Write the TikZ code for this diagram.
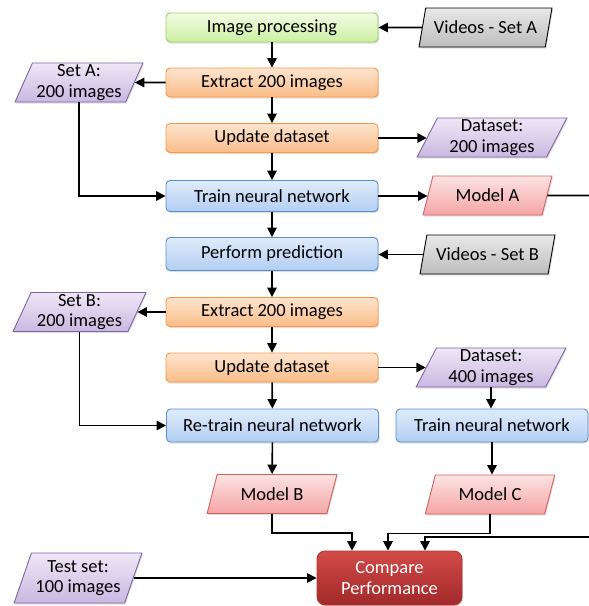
\documentclass[tikz,border=0pt]{standalone}
\usepackage{fontspec}
\setmainfont{Carlito}
\usetikzlibrary{shapes.geometric,arrows.meta,shadows,calc}
\definecolor{grnD}{HTML}{9DCB6B}
\definecolor{grnT}{HTML}{F2FBE4}
\definecolor{grnB}{HTML}{CBEFA0}
\definecolor{orD}{HTML}{F79646}
\definecolor{orT}{HTML}{FDE4CF}
\definecolor{orB}{HTML}{FBBD87}
\definecolor{blD}{HTML}{5B8FD0}
\definecolor{blT}{HTML}{DFEBFB}
\definecolor{blB}{HTML}{B3CEF2}
\definecolor{puD}{HTML}{8064A2}
\definecolor{puT}{HTML}{EEE7F6}
\definecolor{puB}{HTML}{CAB8E1}
\definecolor{gyT}{HTML}{E8E8E8}
\definecolor{gyB}{HTML}{BDBDBD}
\definecolor{rdD}{HTML}{D46161}
\definecolor{rdT}{HTML}{FDE3E3}
\definecolor{rdB}{HTML}{F4A5A5}
\definecolor{crD}{HTML}{B53535}
\definecolor{crT}{HTML}{D24A47}
\definecolor{crB}{HTML}{A2292A}
\begin{document}
\begin{tikzpicture}[x=1pt,y=-1pt,
  font=\fontsize{18.5}{20.5}\selectfont,
  shad/.style={drop shadow={opacity=0.25,shadow xshift=1pt,shadow yshift=-1.5pt}},
  box/.style={rectangle,rounded corners=4pt,minimum width=212pt,minimum height=29pt,inner sep=0pt,line width=0.9pt,shad},
  gbox/.style={box,draw=grnD,top color=grnT,bottom color=grnB},
  obox/.style={box,draw=orD,top color=orT,bottom color=orB},
  bbox/.style={box,draw=blD,top color=blT,bottom color=blB,minimum height=33pt},
  cbox/.style={box,draw=crD,top color=crT,bottom color=crB,text=white,align=center,rounded corners=8pt,minimum width=145pt,minimum height=54pt},
  para/.style={trapezium,trapezium left angle=66,trapezium right angle=114,trapezium stretches=true,inner sep=0pt,minimum height=39pt,line width=0.9pt,align=center,shad},
  gpara/.style={para,draw=black,top color=gyT,bottom color=gyB},
  ppara/.style={para,draw=puD,top color=puT,bottom color=puB},
  rpara/.style={para,draw=rdD,top color=rdT,bottom color=rdB},
  arr/.style={-{Triangle[length=9.5pt,width=9.5pt]},line width=1.6pt}]
\useasboundingbox (0,0) rectangle (589,606);
% process boxes
\node[gbox] (ip) at (272,27.5) {Image processing};
\node[obox] (ex1) at (272,82.5) {Extract 200 images};
\node[obox] (ud1) at (272,138) {Update dataset};
\node[bbox,minimum height=31pt] (tn) at (272,196) {Train neural network};
\node[bbox] (pp) at (272,254) {Perform prediction};
\node[obox] (ex2) at (272,312) {Extract 200 images};
\node[obox] (ud2) at (272,367.5) {Update dataset};
\node[bbox] (rt) at (272.5,425.5) {Re-train neural network};
\node[bbox,minimum width=192pt] (tc) at (492,425.5) {Train neural network};
\node[cbox] (cmp) at (389.5,578) {Compare\\Performance};
% data
\node[gpara,minimum width=133pt] (va) at (485.5,27.5) {Videos - Set A};
\node[ppara,minimum width=150pt] (d1) at (492,137.5) {Dataset:\\200 images};
\node[ppara,minimum width=128pt] (sa) at (79,82.5) {Set A:\\200 images};
\node[rpara,minimum width=129pt] (ma) at (487.5,195.5) {Model A};
\node[gpara,minimum width=135pt] (vb) at (487.5,254.5) {Videos - Set B};
\node[ppara,minimum width=133pt] (sb) at (79.5,312) {Set B:\\200 images};
\node[ppara,minimum width=150pt] (d2) at (491,367.5) {Dataset:\\400 images};
\node[rpara,minimum width=130pt] (mb) at (272,494) {Model B};
\node[rpara,minimum width=130pt] (mc) at (490,494.5) {Model C};
\node[ppara,minimum width=128pt,minimum height=50pt] (ts) at (78,578) {Test set:\\100 images};
% connectors
\draw[arr] (va.west) -- (ip.east);
\draw[arr] (ip) -- (ex1);
\draw[arr] (ex1.west) -- (sa.east);
\draw[arr] (ex1) -- (ud1);
\draw[arr] (ud1.east) -- (d1.west |- ud1.east);
\draw[arr] (ud1) -- (tn);
\draw[arr] (sa.south) |- (tn.west);
\draw[arr] (tn.east) -- (ma.west |- tn.east);
\draw[arr] (tn) -- (pp);
\draw[arr] (vb.west) -- (pp.east |- vb.west);
\draw[arr] (pp) -- (ex2);
\draw[arr] (ex2.west) -- (sb.east |- ex2.west);
\draw[arr] (ex2) -- (ud2);
\draw[arr] (ud2.east) -- (d2.west |- ud2.east);
\draw[arr] (ud2) -- (rt);
\draw[arr] (sb.south) |- (rt.west);
\draw[arr] (d2.south) -- (d2.south |- tc.north);
\draw[arr] (rt) -- (mb);
\draw[arr] (tc.south) -- (tc.south |- mc.north);
\coordinate (ra) at (600,195.5);
\coordinate (rb) at (600,537);
\draw[arr] (ma.east) -- (ra) -- (rb) -| ([xshift=35.5pt]cmp.north);
\draw[arr] (mb.south) -- ++(0,19) -| ([xshift=-37.5pt]cmp.north);
\draw[arr] (mc.south) -- ++(0,19) -| ([xshift=-1.5pt]cmp.north);
\draw[arr] (ts.east) -- (cmp.west |- ts.east);
\end{tikzpicture}
\end{document}
